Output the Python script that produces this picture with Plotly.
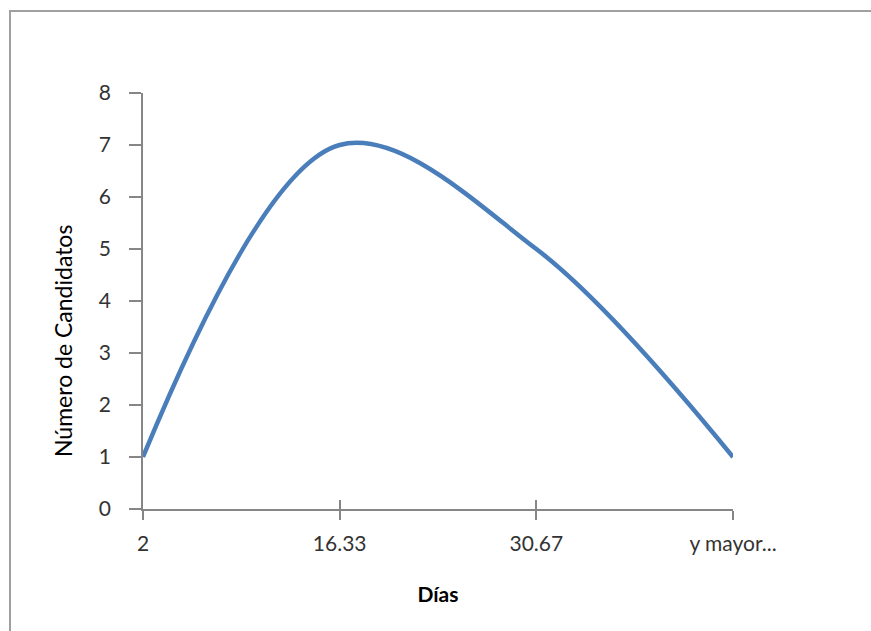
import plotly.graph_objects as go

categories = ["2", "16.33", "30.67", "y mayor..."]
values = [1, 7, 5, 1]
y_ticks = [0, 1, 2, 3, 4, 5, 6, 7, 8]
x_title = "Días"
y_title = "Número de Candidatos"

W, H = 871, 631
L, R, T, B = 143, 138, 93, 122
pw = W - L - R
ph = H - T - B

font_family = "Lato, 'Open Sans', sans-serif"
tick_color = "#333333"
axis_color = "#868686"
FS = 21

fig = go.Figure()
fig.add_trace(go.Scatter(
    x=categories, y=values, mode="lines",
    line=dict(color="#4A7EBB", width=4.5, shape="spline", smoothing=1.0),
    showlegend=False, hoverinfo="skip",
))
# invisible trace anchoring the overlay x axis that draws the upper tick halves
fig.add_trace(go.Scatter(
    x=categories, y=values, mode="lines", xaxis="x2",
    line=dict(width=0), opacity=0, showlegend=False, hoverinfo="skip",
))

fig.update_layout(
    width=W, height=H,
    margin=dict(l=L, r=R, t=T, b=B),
    paper_bgcolor="white", plot_bgcolor="white",
    font=dict(family=font_family, size=FS, color=tick_color),
    xaxis=dict(
        type="category", categoryorder="array", categoryarray=categories,
        range=[0, len(categories) - 1],
        showline=True, linecolor=axis_color, linewidth=1.5,
        ticks="outside", ticklen=9, tickcolor=axis_color, tickwidth=1.5,
        ticklabelstandoff=6,
        showgrid=False, zeroline=False,
        tickfont=dict(family=font_family, size=FS, color=tick_color),
        title=dict(text="<b>" + x_title + "</b>", font=dict(family=font_family, size=FS, color="#000000"), standoff=33),
    ),
    xaxis2=dict(
        type="category", categoryorder="array", categoryarray=categories,
        range=[0, len(categories) - 1], overlaying="x", side="bottom",
        showline=False, ticks="inside", ticklen=9, tickcolor=axis_color, tickwidth=1.5,
        showticklabels=False, showgrid=False, zeroline=False,
    ),
    yaxis=dict(
        range=[0, 8], tickvals=y_ticks,
        showline=True, linecolor=axis_color, linewidth=1.5,
        ticks="outside", ticklen=12, tickcolor=axis_color, tickwidth=1.5,
        ticklabelstandoff=14,
        showgrid=False, zeroline=False,
        tickfont=dict(family=font_family, size=FS, color=tick_color),
    ),
)

# y-axis title, centred on the chart frame like the original
fig.add_annotation(
    text=y_title, textangle=-90, showarrow=False,
    xref="paper", yref="paper",
    x=(63 - L) / pw, y=(H - B - 341) / ph,
    xanchor="center", yanchor="middle",
    font=dict(family=font_family, size=FS + 2, color="#000000"),
)

# chart-area frame, clipped by page edges at right and bottom
fig.add_shape(
    type="rect", xref="paper", yref="paper",
    x0=(10 - L) / pw, x1=(W + 20 - L) / pw,
    y0=-(H + 20 - T - ph) / ph, y1=(H - 11 - B) / ph,
    line=dict(color="#A0A0A0", width=2), fillcolor="rgba(0,0,0,0)", layer="below",
)

fig.write_html("out.html")
